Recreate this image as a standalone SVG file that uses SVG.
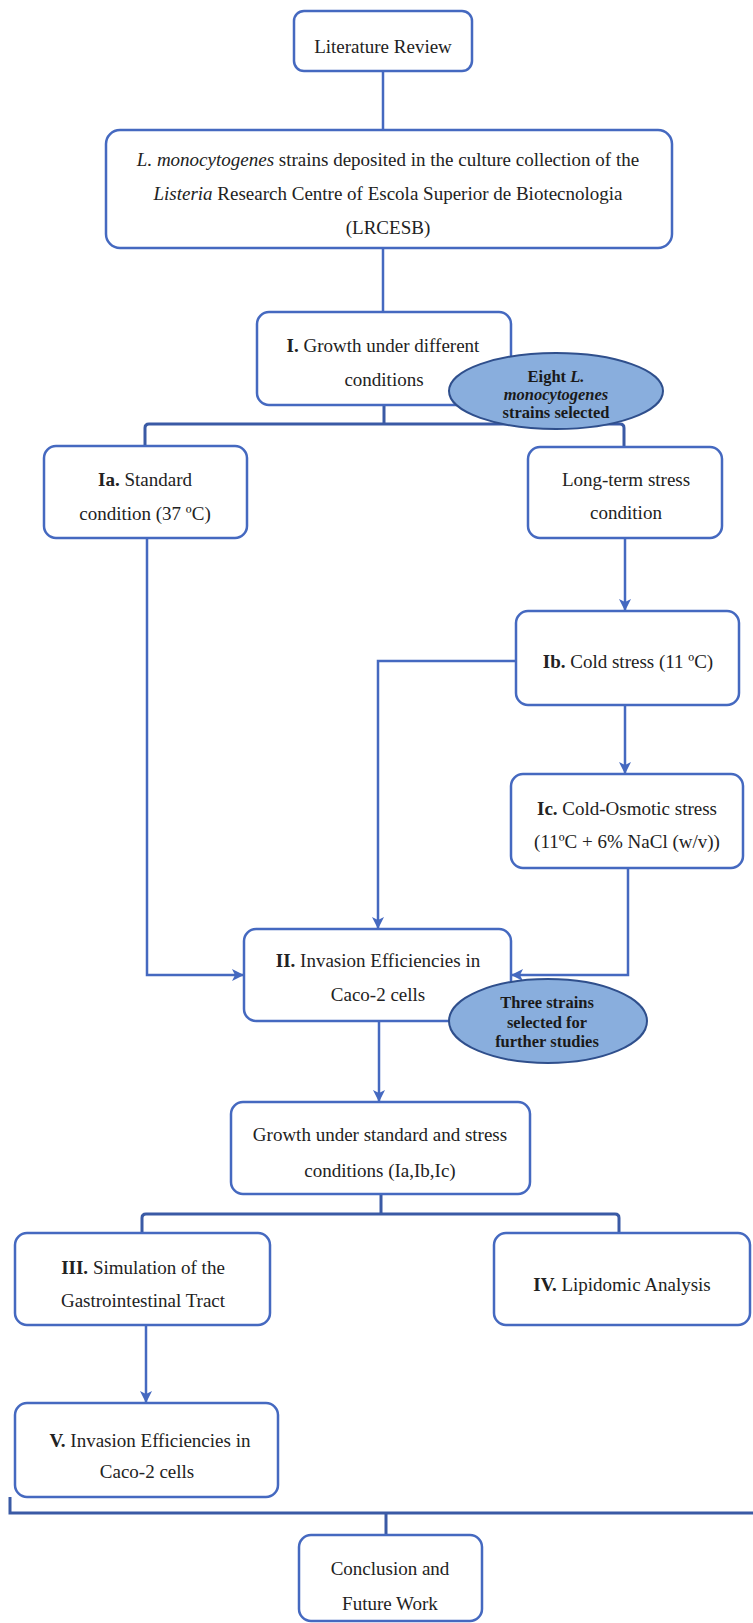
<svg xmlns="http://www.w3.org/2000/svg" width="753" height="1623" viewBox="0 0 753 1623">
<style>
  .box { fill: #ffffff; stroke: #4569c0; stroke-width: 2.5; }
  .oval { fill: #89aedd; stroke: #2f4f8c; stroke-width: 2; }
  .t { font-family: "Liberation Serif", "Times New Roman", serif; font-size: 19px; fill: #222; text-anchor: middle; }
  .ot { font-family: "Liberation Serif", "Times New Roman", serif; font-size: 16.5px; font-weight: bold; fill: #1a1a1a; text-anchor: middle; }
  .b { font-weight: bold; }
  .i { font-style: italic; }
  .ln { fill: none; stroke: #4569c0; stroke-width: 2.5; }
  .br { fill: none; stroke: #3a5aa5; stroke-width: 3; }
</style>
<defs>
  <marker id="arr" markerUnits="userSpaceOnUse" markerWidth="12" markerHeight="12" viewBox="0 0 12 12" refX="11" refY="6" orient="auto">
    <path d="M0,0 L12,6 L0,12 L3,6 z" fill="#4569c0"/>
  </marker>
</defs>
<rect width="753" height="1623" fill="#ffffff"/>

<g id="connectors">
  <line class="ln" x1="383" y1="71" x2="383" y2="130"/>
  <line class="ln" x1="383" y1="248" x2="383" y2="312"/>
  <path class="br" d="M384,405 L384,424 M145,446 L145,428 Q145,424 149,424 L620,424 Q624,424 624,428 L624,447"/>
  <line class="ln" x1="625" y1="538" x2="625" y2="610" marker-end="url(#arr)"/>
  <line class="ln" x1="625" y1="705" x2="625" y2="773" marker-end="url(#arr)"/>
  <path class="ln" d="M147,538 L147,975 L243,975" marker-end="url(#arr)"/>
  <path class="ln" d="M516,661 L378,661 L378,928" marker-end="url(#arr)"/>
  <path class="ln" d="M628,868 L628,975 L512,975" marker-end="url(#arr)"/>
  <line class="ln" x1="379" y1="1021" x2="379" y2="1101" marker-end="url(#arr)"/>
  <path class="br" d="M381,1194 L381,1214 M142,1233 L142,1218 Q142,1214 146,1214 L615,1214 Q619,1214 619,1218 L619,1233"/>
  <line class="ln" x1="146" y1="1325" x2="146" y2="1402" marker-end="url(#arr)"/>
  <path class="br" d="M10,1497 L10,1513 L753,1513 M386,1513 L386,1535"/>
</g>

<g id="n-literature">
  <rect class="box" x="294" y="11" width="178" height="60" rx="10"/>
  <text class="t" x="383" y="53">Literature Review</text>
</g>

<g id="n-strains">
  <rect class="box" x="106" y="130" width="566" height="118" rx="14"/>
  <text class="t" x="388" y="166"><tspan class="i">L. monocytogenes</tspan> strains deposited in the culture collection of the</text>
  <text class="t" x="388" y="200"><tspan class="i">Listeria</tspan> Research Centre of Escola Superior de Biotecnologia</text>
  <text class="t" x="388" y="234">(LRCESB)</text>
</g>

<g id="n-growth">
  <rect class="box" x="257" y="312" width="254" height="93" rx="12"/>
  <text class="t" x="383" y="352"><tspan class="b">I.</tspan> Growth under different</text>
  <text class="t" x="384" y="386">conditions</text>
</g>

<g id="n-eight">
  <ellipse class="oval" cx="556" cy="391" rx="107" ry="38"/>
  <text class="ot" x="556" y="382">Eight <tspan class="i">L.</tspan></text>
  <text class="ot i" x="556" y="400">monocytogenes</text>
  <text class="ot" x="556" y="418">strains selected</text>
</g>

<g id="n-ia">
  <rect class="box" x="44" y="446" width="203" height="92" rx="12"/>
  <text class="t" x="145" y="486"><tspan class="b">Ia.</tspan> Standard</text>
  <text class="t" x="145" y="520">condition (37 ºC)</text>
</g>

<g id="n-longterm">
  <rect class="box" x="528" y="447" width="194" height="91" rx="12"/>
  <text class="t" x="626" y="486">Long-term stress</text>
  <text class="t" x="626" y="519">condition</text>
</g>

<g id="n-ib">
  <rect class="box" x="516" y="611" width="223" height="94" rx="12"/>
  <text class="t" x="628" y="668"><tspan class="b">Ib.</tspan> Cold stress (11 ºC)</text>
</g>

<g id="n-ic">
  <rect class="box" x="511" y="774" width="232" height="94" rx="12"/>
  <text class="t" x="627" y="815"><tspan class="b">Ic.</tspan> Cold-Osmotic stress</text>
  <text class="t" x="627" y="848">(11ºC + 6% NaCl (w/v))</text>
</g>

<g id="n-invasion2">
  <rect class="box" x="244" y="929" width="267" height="92" rx="12"/>
  <text class="t" x="378" y="967"><tspan class="b">II.</tspan> Invasion Efficiencies in</text>
  <text class="t" x="378" y="1001">Caco-2 cells</text>
</g>

<g id="n-three">
  <ellipse class="oval" cx="548" cy="1021" rx="99" ry="42"/>
  <text class="ot" x="547" y="1008">Three strains</text>
  <text class="ot" x="547" y="1028">selected  for</text>
  <text class="ot" x="547" y="1047">further studies</text>
</g>

<g id="n-growthstd">
  <rect class="box" x="231" y="1102" width="299" height="92" rx="12"/>
  <text class="t" x="380" y="1141">Growth under standard and stress</text>
  <text class="t" x="380" y="1177">conditions (Ia,Ib,Ic)</text>
</g>

<g id="n-iii">
  <rect class="box" x="15" y="1233" width="255" height="92" rx="12"/>
  <text class="t" x="143" y="1274"><tspan class="b">III.</tspan> Simulation of the</text>
  <text class="t" x="143" y="1307">Gastrointestinal Tract</text>
</g>

<g id="n-iv">
  <rect class="box" x="494" y="1233" width="256" height="92" rx="12"/>
  <text class="t" x="622" y="1291"><tspan class="b">IV.</tspan> Lipidomic Analysis</text>
</g>

<g id="n-v">
  <rect class="box" x="15" y="1403" width="263" height="94" rx="12"/>
  <text class="t" x="150" y="1447"><tspan class="b">V.</tspan> Invasion Efficiencies in</text>
  <text class="t" x="147" y="1478">Caco-2 cells</text>
</g>

<g id="n-conclusion">
  <rect class="box" x="299" y="1535" width="183" height="86" rx="12"/>
  <text class="t" x="390" y="1575">Conclusion and</text>
  <text class="t" x="390" y="1610">Future Work</text>
</g>
</svg>
